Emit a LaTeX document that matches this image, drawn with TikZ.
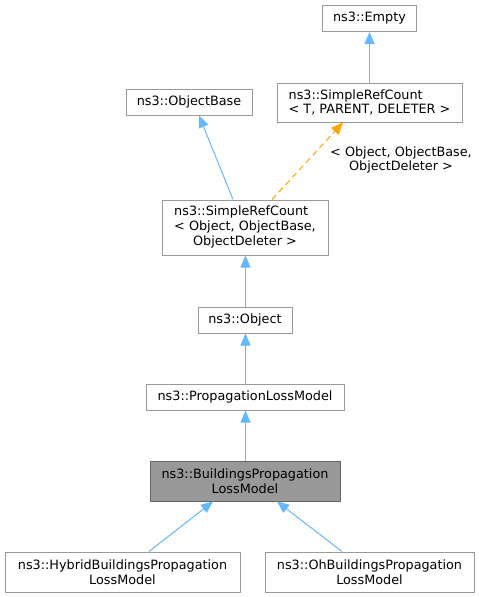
\documentclass[tikz,border=0pt]{standalone}
\usepackage{fontspec}
\setmainfont{DejaVu Sans}
\usetikzlibrary{arrows.meta,calc}
\definecolor{edgeblue}{HTML}{63B8FF}
\definecolor{edgeorange}{HTML}{FFA500}
\definecolor{boxgray}{HTML}{999999}
\definecolor{boxdark}{HTML}{666666}
\tikzset{
  cls/.style={draw=boxgray, line width=1pt, fill=white, inner sep=0pt, font=\fontsize{12.8}{14.7}\selectfont, text=black},
  hl/.style={cls, fill=boxgray, draw=boxdark},
  inh/.style={draw=edgeblue, line width=1pt, -{Triangle[length=12pt,width=10pt]}},
  tmpl/.style={draw=edgeorange, line width=1pt, dash pattern=on 6pt off 4pt, -{Triangle[length=12pt,width=10pt]}},
  lbl/.style={font=\fontsize{12.8}{14.7}\selectfont, align=center, inner sep=0pt}
}
\begin{document}
\begin{tikzpicture}[x=1pt,y=-1pt]
\useasboundingbox (0,0) rectangle (479,597);
\fill[white] (0,0) rectangle (479,597);
\node[cls, minimum width=94pt, minimum height=26pt] (empty) at (369.5,18.5) {ns3::Empty};
\node[cls, minimum width=185pt, minimum height=39pt, align=left] (srct) at (369.5,102.5) {ns3::SimpleRefCount\\< T, PARENT, DELETER >};
\node[cls, minimum width=126pt, minimum height=26pt] (objbase) at (189,102) {ns3::ObjectBase};
\node[cls, minimum width=166pt, minimum height=55pt] (srco) at (245,227.5) {\begin{tabular}{@{}l@{}}ns3::SimpleRefCount\\< Object, ObjectBase,\\\multicolumn{1}{@{}c@{}}{ObjectDeleter >}\end{tabular}};
\node[cls, minimum width=94pt, minimum height=26pt] (object) at (245,320) {ns3::Object};
\node[cls, minimum width=198pt, minimum height=26pt] (plm) at (245,397) {ns3::PropagationLossModel};
\node[hl, minimum width=190pt, minimum height=40pt, align=center] (bplm) at (245,481) {ns3::BuildingsPropagation\\LossModel};
\node[cls, minimum width=235pt, minimum height=40pt, align=center] (hyb) at (122.5,572) {ns3::HybridBuildingsPropagation\\LossModel};
\node[cls, minimum width=209pt, minimum height=40pt, align=center] (oh) at (369.5,572) {ns3::OhBuildingsPropagation\\LossModel};
\node[lbl] (tl) at (401,160) {< Object, ObjectBase,\\ObjectDeleter >};

\draw[inh] (srct.north) -- (empty.south);
\draw[inh] ([xshift=-12pt]srco.north) -- ([xshift=10pt]objbase.south);
\draw[tmpl] ([xshift=27pt]srco.north) -- ([xshift=-26.5pt]srct.south);
\draw[inh] ([xshift=0.5pt]object.north) -- ([xshift=0.5pt]srco.south);
\draw[inh] ([xshift=0.5pt]plm.north) -- ([xshift=0.5pt]object.south);
\draw[inh] ([xshift=0.5pt]bplm.north) -- ([xshift=0.5pt]plm.south);
\draw[inh] ([xshift=26.5pt]hyb.north) -- ([xshift=-32pt]bplm.south);
\draw[inh] ([xshift=-27.5pt]oh.north) -- ([xshift=32pt]bplm.south);
\end{tikzpicture}
\end{document}
